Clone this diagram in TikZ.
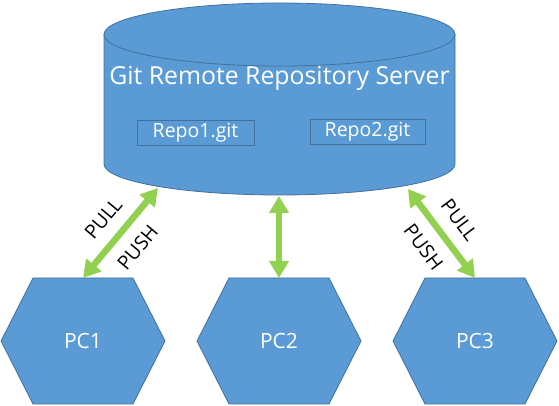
\documentclass[tikz,border=0pt]{standalone}
\usepackage{fontspec}
\setmainfont{Open Sans}
\usetikzlibrary{arrows.meta}
\definecolor{boxblue}{HTML}{5B9BD5}
\definecolor{boxline}{HTML}{41719C}
\definecolor{linkgreen}{HTML}{92D050}
\begin{document}
\begin{tikzpicture}[x=1pt,y=1pt,
		shape3d/.style={fill=boxblue,draw=boxline,line width=.8pt},
		repo/.style={draw=boxline,line width=.8pt,minimum height=25pt,inner sep=0pt,text=white,font=\fontsize{19.5}{20}\selectfont},
		pctext/.style={text=white,font=\fontsize{21}{22}\selectfont},
		link/.style={linkgreen,line width=6.5pt,{Triangle[length=17pt,width=19pt]}-{Triangle[length=17pt,width=19pt]}},
		lbl/.style={text=black,sloped,inner sep=2pt,font=\fontsize{19.5}{20}\selectfont}]
				\useasboundingbox (0,0) rectangle (559,406);
				\filldraw[shape3d] (104,371.5) -- (104,242) arc[start angle=180,end angle=360,x radius=175.5,y radius=31] -- (455,371.5) -- cycle;
				\filldraw[shape3d] (279.5,371.5) ellipse[x radius=175.5,y radius=31.5];
				\node[text=white,font=\fontsize{24.8}{26}\selectfont] (srv) at (279.5,328) {Git Remote Repository Server};
				\node[repo,minimum width=117pt] (repo1) at (195.5,273.5) {Repo1.git};
				\node[repo,minimum width=115pt] (repo2) at (367.5,274.5) {Repo2.git};
				\foreach \n/\x in {1/83,2/279,3/475}{
					\filldraw[shape3d] (\x-82,65) -- (\x-50,128) -- (\x+50,128) -- (\x+82,65) -- (\x+50,2) -- (\x-50,2) -- cycle;
					\node[pctext] (pc\n) at (\x,65) {PC\n};
					\coordinate (pc\n top) at (\x,128);
				}
				\coordinate (s1) at (158,218);
				\coordinate (s2) at (279,210);
				\coordinate (s3) at (408,217);
				\draw[link] (pc1top) -- node[lbl,above=10pt]{PULL} node[lbl,below=10pt]{PUSH} (s1);
				\draw[link] (s2) -- (pc2top);
				\draw[link] (s3) -- node[lbl,above=10pt]{PULL} node[lbl,below=10pt]{PUSH} (pc3top);
\end{tikzpicture}
\end{document}
